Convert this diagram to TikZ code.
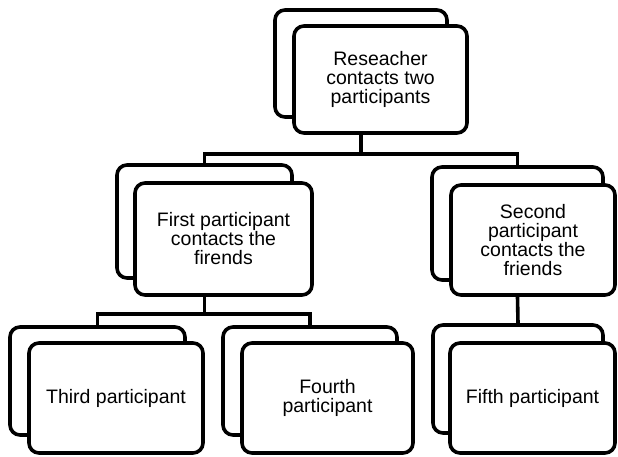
\documentclass[tikz,border=0pt]{standalone}
\usepackage{fontspec}
\setmainfont{Liberation Sans}
\begin{document}
\begin{tikzpicture}[x=1pt,y=-1pt,
  card/.style={draw=black, line width=3.6pt, rounded corners=10pt, fill=white, inner sep=0pt, align=center,
    font=\fontsize{19.5}{19}\selectfont},
  link/.style={draw=black, line width=3.6pt}]
\useasboundingbox (0,0) rectangle (618,456);
% top
\node[card, minimum width=172, minimum height=107] (tB) at (361,63.5) {};
\node[card, minimum width=173, minimum height=107] (tF) at (380.5,79.5) {Reseacher\\contacts two\\participants};
% middle left
\node[card, minimum width=175, minimum height=113] (lB) at (204.5,221.5) {};
\node[card, minimum width=177, minimum height=112] (lF) at (223.5,239) {First participant\\contacts the\\firends};
% middle right
\node[card, minimum width=171, minimum height=113] (rB) at (517.5,223.5) {};
\node[card, minimum width=164, minimum height=110] (rF) at (533,240) {Second\\participant\\contacts the\\friends};
% bottom
\node[card, minimum width=175, minimum height=108] (aB) at (97.5,381) {};
\node[card, minimum width=174, minimum height=110] (aF) at (116,398) {Third participant};
\node[card, minimum width=174, minimum height=108] (bB) at (310,381) {};
\node[card, minimum width=171, minimum height=110] (bF) at (327.5,398) {Fourth\\participant};
\node[card, minimum width=170, minimum height=108] (cB) at (518,379) {};
\node[card, minimum width=165, minimum height=110] (cF) at (532.5,398) {Fifth participant};
% connectors
\draw[link] (tB.center |- tF.south) -- ++(0,19) -| (lB.north);
\draw[link] (tB.center |- tF.south) -- ++(0,19) -| (rB.north);
\draw[link] (lB.center |- lF.south) -- ++(0,17) -| (aB.north);
\draw[link] (lB.center |- lF.south) -- ++(0,17) -| (bB.north);
\draw[link] (rB.center |- rF.south) -- (cB.north);
\end{tikzpicture}
\end{document}
